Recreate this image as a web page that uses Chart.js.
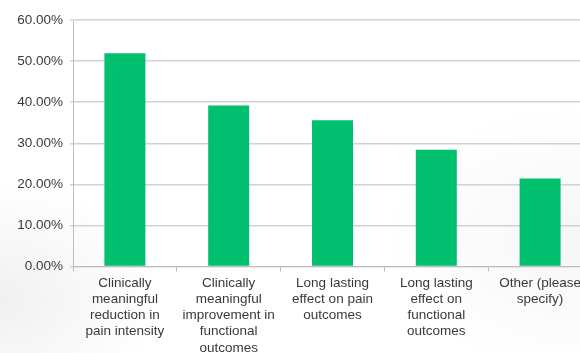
<!DOCTYPE html>
<html>
<head>
<meta charset="utf-8">
<script src="https://cdn.jsdelivr.net/npm/chart.js@4"></script>
<style>
  html, body { margin: 0; padding: 0; width: 580px; height: 353px; overflow: hidden; background: #fff; }
  #wrap { position: relative; width: 600px; height: 380px; }
  #bg { position: absolute; left: 0; top: 0; width: 580px; height: 353px;
        background:
          radial-gradient(ellipse 160px 120px at 0px 300px, rgba(0,0,0,0.06), rgba(0,0,0,0) 100%),
          radial-gradient(ellipse 200px 140px at 580px 240px, rgba(0,0,0,0.035), rgba(0,0,0,0) 100%); }
  canvas { position: absolute; left: 0; top: 0; }
</style>
</head>
<body>
<div id="wrap">
  <div id="bg"></div>
  <canvas id="c" width="600" height="380"></canvas>
</div>
<script>
// Answer options and share of respondents (%)
const categories = [
  ["Clinically", "meaningful", "reduction in", "pain intensity"],
  ["Clinically", "meaningful", "improvement in", "functional", "outcomes"],
  ["Long lasting", "effect on pain", "outcomes"],
  ["Long lasting", "effect on", "functional", "outcomes"],
  ["Other (please", "specify)"]
];
const shares = [51.9, 39.2, 35.6, 28.4, 21.4];
const yTicks = [0, 10, 20, 30, 40, 50, 60];

const fontFamily = "'Liberation Sans', Arial, sans-serif";

new Chart(document.getElementById('c'), {
  type: 'bar',
  data: {
    labels: categories,
    datasets: [{
      data: shares,
      backgroundColor: '#00bf6f',
      borderWidth: 0,
      categoryPercentage: 1.0,
      barPercentage: 0.395
    }]
  },
  options: {
    responsive: false,
    animation: false,
    devicePixelRatio: 1,
    layout: { padding: { top: 20, right: 8, bottom: 0, left: 0 } },
    plugins: { legend: { display: false }, tooltip: { enabled: false } },
    scales: {
      x: {
        offset: true,
        grid: { offset: true, drawOnChartArea: false, drawTicks: true, tickLength: 5, color: '#bdbdbd' },
        border: { color: '#bdbdbd', width: 1 },
        ticks: {
          autoSkip: false, maxRotation: 0, minRotation: 0, padding: 4,
          color: '#3a3a3a', font: { family: fontFamily, size: 13.5, lineHeight: 1.19 }
        },
        afterFit: s => { s.height = 380 - 266.5; }
      },
      y: {
        min: 0, max: 60,
        afterBuildTicks: s => { s.ticks = yTicks.map(v => ({ value: v })); },
        grid: { color: '#d2d2d2', lineWidth: 1.5, tickLength: 3 },
        border: { color: '#bdbdbd', width: 1 },
        ticks: {
          padding: 7,
          color: '#3a3a3a', font: { family: fontFamily, size: 13.5 },
          callback: v => v.toFixed(2) + '%'
        },
        afterFit: s => { s.width = 73; }
      }
    }
  }
});
</script>
</body>
</html>
